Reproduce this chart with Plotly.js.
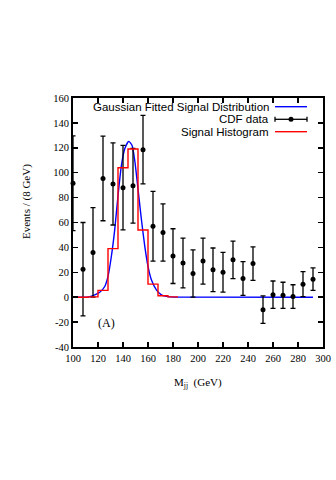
<!DOCTYPE html>
<html>
<head>
<meta charset="utf-8">
<script src="https://cdn.plot.ly/plotly-3.0.1.min.js"></script>
<style>html,body{margin:0;padding:0;background:#fff;}#chart{width:336px;height:480px;}</style>
</head>
<body>
<div id="chart"></div>
<script>
// CDF data points (bin centres, events per 8 GeV, symmetric errors)
var dataX = [100,108,116,124,132,140,148,156,164,172,180,188,196,204,212,220,228,236,244,252,260,268,276,284,292];
var dataY = [91.5,22.5,36,95.4,91,88,89.5,118.5,57,52,33,27.5,19,29,22,20,30,15,27,-10,2,1.5,0.5,10.5,14.5];
var dataErr = [38,37.5,36,34,33,34,30,27.5,28,23,22,20,19,18.5,17.5,16,15,13.5,13.5,11,11,10.5,9.5,10,9];

// Signal histogram (left bin edges, contents)
var histLo = [96,104,112,120,128,136,144,152,160,168,176];
var histVal = [0,0,0.3,5.5,39,104,119,54,10.5,1.2,0.3];
var histHi = 184;

// Gaussian fitted signal distribution
var gaussX = [100,108,113,117.4,121.4,125.4,128,130.7,133.4,136,138.7,141.4,144.6,147.2,149.4,152,154.7,157.4,160,162.7,166.7,170.7,176,184,292];
var gaussY = [0,0,0.3,1.9,4,8.6,16.7,32.9,54.5,81.5,105.7,119.3,125.2,122,109.8,86.9,62.6,41,24.8,14,5.9,1.9,0.5,0.1,0];

// Axis ticks
var xTicks = [100,120,140,160,180,200,220,240,260,280,300];
var yTicks = [-40,-20,0,20,40,60,80,100,120,140,160];

var legendNames = ["Gaussian Fitted Signal Distribution","CDF data","Signal Histogram"];

var serif = "Liberation Serif, Times New Roman, serif";
var sans = "Liberation Sans, Arial, Helvetica, sans-serif";

var traces = [
  {x: gaussX, y: gaussY, type: "scatter", mode: "lines",
   line: {color: "#0000ff", width: 1.4, shape: "spline", smoothing: 0.6}, hoverinfo: "skip"},
  {x: dataX, y: dataY, type: "scatter", mode: "markers", cliponaxis: false,
   marker: {color: "#000", size: 5},
   error_y: {type: "data", array: dataErr, visible: true, color: "#000", thickness: 1.3, width: 2.5}},
  {x: histLo.concat([histHi]), y: histVal.concat([histVal[histVal.length-1]]), type: "scatter", mode: "lines",
   line: {color: "#ff0000", width: 1.4, shape: "hv"}}
];

// legend drawn manually (text right-aligned with samples on the right)
var L = 73, R = 323, T = 98, B = 347;
function px(x){ return (x - L) / (R - L); }
function py(y){ return (B - y) / (B - T); }
var rows = [106.7, 119.3, 131.7];
var sx0 = px(275), sx1 = px(307);

var annotations = [
  {text: "(A)", x: 126.5, y: -20.5, xref: "x", yref: "y", showarrow: false,
   xanchor: "center", yanchor: "middle",
   font: {family: serif, size: 12, color: "#000"}},
  {text: "Events / (8 GeV)", x: px(26), y: py(202), xref: "paper", yref: "paper", showarrow: false,
   xanchor: "center", yanchor: "middle",
   textangle: -90, font: {family: serif, size: 11, color: "#000"}},
  {text: "M<sub>jj</sub>  (GeV)", x: 0.5, y: py(383), xref: "paper", yref: "paper", showarrow: false,
   xanchor: "center", yanchor: "middle",
   font: {family: serif, size: 11, color: "#000"}}
];
for (var i = 0; i < 3; i++) {
  annotations.push({text: legendNames[i], x: px(271), y: py(rows[i]), xref: "paper", yref: "paper",
    xanchor: "right", yanchor: "middle", showarrow: false,
    font: {family: sans, size: 11.5, color: "#000"}});
}
var shapes = [
  {type: "line", xref: "paper", yref: "paper", x0: sx0, x1: sx1, y0: py(rows[0]), y1: py(rows[0]), line: {color: "#0000ff", width: 1.4}},
  {type: "line", xref: "paper", yref: "paper", x0: sx0, x1: sx1, y0: py(rows[1]), y1: py(rows[1]), line: {color: "#000", width: 1.3}},
  {type: "line", xref: "paper", yref: "paper", x0: sx0, x1: sx0, y0: py(rows[1]-2.5), y1: py(rows[1]+2.5), line: {color: "#000", width: 1.3}},
  {type: "line", xref: "paper", yref: "paper", x0: sx1, x1: sx1, y0: py(rows[1]-2.5), y1: py(rows[1]+2.5), line: {color: "#000", width: 1.3}},
  {type: "circle", xref: "paper", yref: "paper", x0: px(288.5), x1: px(293.5), y0: py(rows[1]-2.5), y1: py(rows[1]+2.5), fillcolor: "#000", line: {color: "#000", width: 0}},
  {type: "line", xref: "paper", yref: "paper", x0: sx0, x1: sx1, y0: py(rows[2]), y1: py(rows[2]), line: {color: "#ff0000", width: 1.4}}
];

var axisCommon = {
  showline: true, linecolor: "#000", linewidth: 2, mirror: "ticks",
  ticks: "inside", ticklen: 5, tickwidth: 1.5, tickcolor: "#000",
  showgrid: false, zeroline: false, tickmode: "array",
  tickfont: {family: serif, size: 10.5, color: "#000"}
};
var layout = {
  width: 336, height: 480,
  margin: {l: 73, r: 13, t: 98, b: 133},
  paper_bgcolor: "#fff", plot_bgcolor: "#fff",
  showlegend: false,
  xaxis: Object.assign({}, axisCommon, {range: [100, 300], tickvals: xTicks, ticktext: xTicks.map(String)}),
  yaxis: Object.assign({}, axisCommon, {range: [-40, 160], tickvals: yTicks, ticktext: yTicks.map(String)}),
  annotations: annotations,
  shapes: shapes
};
Plotly.newPlot("chart", traces, layout, {staticPlot: true, displayModeBar: false});
</script>
</body>
</html>
